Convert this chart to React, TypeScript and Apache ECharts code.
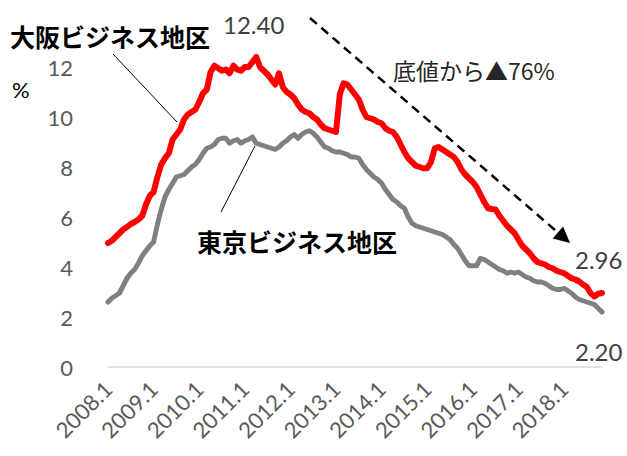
import React, { useEffect, useRef } from "react";
import * as echarts from "echarts";

// Monthly categories 2008.1 – 2018.11
const years = [2008, 2009, 2010, 2011, 2012, 2013, 2014, 2015, 2016, 2017, 2018];
const lastMonth = 11;
const months: string[] = [];
years.forEach((y) => {
  for (let m = 1; m <= 12; m++) {
    if (y === 2018 && m > lastMonth) break;
    months.push(`${y}.${m}`);
  }
});

// 大阪ビジネス地区 vacancy rate (%)
const osaka = [
  4.96, 5.05, 5.2, 5.35, 5.5, 5.6, 5.72, 5.8, 5.9, 6.05,
  6.5, 6.85, 7.0, 7.6, 8.1, 8.35, 8.55, 9.1, 9.3, 9.5,
  9.9, 10.1, 10.2, 10.3, 10.6, 10.95, 11.1, 11.8, 12.05, 11.95,
  11.85, 11.9, 11.75, 12.05, 11.9, 11.85, 12.0, 12.0, 12.2, 12.4,
  12.0, 11.85, 11.7, 11.5, 11.3, 11.75, 11.2, 11.0, 10.9, 10.75,
  10.5, 10.3, 10.2, 10.15, 10.0, 9.9, 9.7, 9.55, 9.5, 9.45,
  9.4, 10.9, 11.35, 11.3, 11.1, 10.9, 10.7, 10.3, 10.0, 9.95,
  9.9, 9.8, 9.75, 9.55, 9.45, 9.4, 9.2, 8.9, 8.6, 8.35,
  8.2, 8.05, 8.0, 7.95, 7.95, 8.2, 8.75, 8.8, 8.7, 8.6,
  8.5, 8.4, 8.2, 7.9, 7.7, 7.55, 7.4, 7.2, 6.9, 6.6,
  6.35, 6.32, 6.3, 6.05, 5.85, 5.65, 5.5, 5.35, 5.1, 4.85,
  4.7, 4.55, 4.35, 4.2, 4.15, 4.1, 4.0, 3.95, 3.85, 3.8,
  3.75, 3.65, 3.55, 3.5, 3.42, 3.3, 3.2, 2.95, 2.82, 2.93,
  2.96,
];

// 東京ビジネス地区 vacancy rate (%)
const tokyo = [
  2.6, 2.75, 2.85, 2.95, 3.25, 3.55, 3.75, 3.9, 4.15, 4.45,
  4.65, 4.85, 5.0, 5.7, 6.3, 6.8, 7.1, 7.35, 7.6, 7.65,
  7.7, 7.85, 8.0, 8.1, 8.3, 8.55, 8.75, 8.8, 8.9, 9.1,
  9.15, 9.15, 8.95, 9.05, 9.1, 8.95, 9.05, 9.1, 9.2, 8.95,
  8.9, 8.85, 8.8, 8.75, 8.7, 8.8, 8.95, 9.05, 9.2, 9.3,
  9.15, 9.3, 9.4, 9.45, 9.35, 9.2, 9.0, 8.8, 8.75, 8.65,
  8.6, 8.6, 8.55, 8.5, 8.4, 8.4, 8.35, 8.1, 7.9, 7.75,
  7.6, 7.5, 7.35, 7.1, 6.9, 6.7, 6.6, 6.45, 6.35, 6.0,
  5.75, 5.65, 5.6, 5.55, 5.5, 5.45, 5.4, 5.35, 5.3, 5.2,
  5.1, 4.9, 4.75, 4.5, 4.25, 4.05, 4.05, 4.05, 4.35, 4.3,
  4.2, 4.1, 4.0, 3.9, 3.85, 3.75, 3.8, 3.75, 3.8, 3.7,
  3.6, 3.55, 3.45, 3.4, 3.4, 3.35, 3.25, 3.15, 3.1, 3.1,
  3.15, 3.05, 2.95, 2.8, 2.7, 2.65, 2.6, 2.55, 2.5, 2.35,
  2.2,
];

const seriesNames = ["東京ビジネス地区", "大阪ビジネス地区"];
const annotationTexts = ["12.40", "2.96", "2.20", "底値から▲76%", "%"];

const LATIN = "Lato, 'Open Sans', sans-serif";
const CJK = "'Noto Sans CJK JP', sans-serif";

export default function App() {
  const ref = useRef<HTMLDivElement>(null);

  useEffect(() => {
    document.body.style.margin = "0";
    if (!ref.current) return;
    const chart = echarts.init(ref.current, undefined, { renderer: "svg" });

    // arrow geometry
    const sx = 310, sy = 18, tx = 570, ty = 243;
    const len = Math.hypot(tx - sx, ty - sy);
    const ux = (tx - sx) / len, uy = (ty - sy) / len;
    const hl = 16, hw = 8;
    const bx = tx - ux * hl, by = ty - uy * hl;

    chart.setOption({
      animation: false,
      backgroundColor: "#ffffff",
      grid: { left: 108, right: 25, top: 67, bottom: 89, containLabel: false },
      xAxis: {
        type: "category",
        data: months,
        boundaryGap: false,
        axisLine: { lineStyle: { color: "#D9D9D9", width: 1.5 } },
        axisTick: { show: false },
        splitLine: { show: false },
        axisLabel: {
          interval: 11,
          hideOverlap: false,
          rotate: 45,
          margin: 18,
          color: "#595959",
          fontSize: 22,
          fontFamily: LATIN,
          formatter: (v: string) => (v.endsWith(".1") ? v : ""),
        },
      },
      yAxis: {
        type: "value",
        min: 0,
        max: 12,
        interval: 2,
        axisLine: { show: false },
        axisTick: { show: false },
        splitLine: { show: false },
        axisLabel: { color: "#595959", fontSize: 22, fontFamily: LATIN, margin: 35 },
      },
      series: [
        {
          name: seriesNames[0],
          type: "line",
          data: tokyo,
          symbol: "none",
          clip: false,
          lineStyle: { color: "#808080", width: 5, join: "round", cap: "round" },
        },
        {
          name: seriesNames[1],
          type: "line",
          data: osaka,
          symbol: "none",
          clip: false,
          lineStyle: { color: "#FF0000", width: 6, join: "round", cap: "round" },
        },
      ],
      graphic: [
        {
          type: "text",
          x: 10,
          y: 36,
          style: { text: seriesNames[1], font: `bold 25px ${CJK}`, fill: "#000", verticalAlign: "middle" },
        },
        {
          type: "line",
          shape: { x1: 113, y1: 54, x2: 177, y2: 122 },
          style: { stroke: "#000", lineWidth: 1 },
        },
        {
          type: "text",
          x: 197,
          y: 241,
          style: { text: seriesNames[0], font: `bold 25px ${CJK}`, fill: "#000", verticalAlign: "middle" },
        },
        {
          type: "line",
          shape: { x1: 221, y1: 212, x2: 255, y2: 146 },
          style: { stroke: "#000", lineWidth: 1 },
        },
        {
          type: "text",
          x: 12,
          y: 89,
          style: { text: annotationTexts[4], font: `22px ${LATIN}`, fill: "#000", verticalAlign: "middle" },
        },
        {
          type: "text",
          x: 223,
          y: 24,
          style: { text: annotationTexts[0], font: `24px ${LATIN}`, fill: "#404040", verticalAlign: "middle" },
        },
        {
          type: "text",
          x: 575,
          y: 259,
          style: { text: annotationTexts[1], font: `24px ${LATIN}`, fill: "#404040", verticalAlign: "middle" },
        },
        {
          type: "text",
          x: 575,
          y: 351,
          style: { text: annotationTexts[2], font: `24px ${LATIN}`, fill: "#404040", verticalAlign: "middle" },
        },
        {
          type: "text",
          x: 393,
          y: 70,
          style: { text: annotationTexts[3], font: `23px ${CJK}`, fill: "#262626", verticalAlign: "middle" },
        },
        {
          type: "line",
          shape: { x1: sx, y1: sy, x2: bx, y2: by },
          style: { stroke: "#000", lineWidth: 2.5, lineDash: [9, 6] },
        },
        {
          type: "polygon",
          shape: {
            points: [
              [tx, ty],
              [bx - uy * hw, by + ux * hw],
              [bx + uy * hw, by - ux * hw],
            ],
          },
          style: { fill: "#000" },
        },
      ],
    });

    return () => chart.dispose();
  }, []);

  return <div ref={ref} style={{ width: 627, height: 456 }} />;
}
